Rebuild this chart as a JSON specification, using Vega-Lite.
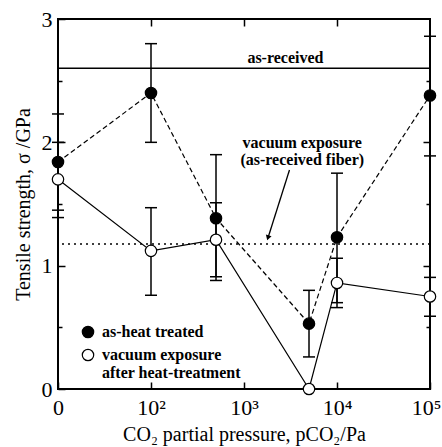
{
  "$schema": "https://vega.github.io/schema/vega-lite/v6.json",
  "width": 372,
  "height": 370,
  "autosize": "none",
  "padding": {"left": 58, "top": 19, "right": 12, "bottom": 58},
  "background": "white",
  "datasets": {
    "main": [
      {"series": "as-heat treated", "p": 10, "sigma": 1.84, "lo": 1.45, "hi": 2.23},
      {"series": "as-heat treated", "p": 100, "sigma": 2.40, "lo": 2.00, "hi": 2.80},
      {"series": "as-heat treated", "p": 500, "sigma": 1.385, "lo": 0.88, "hi": 1.90},
      {"series": "as-heat treated", "p": 5000, "sigma": 0.53, "lo": 0.26, "hi": 0.80},
      {"series": "as-heat treated", "p": 10000, "sigma": 1.23, "lo": 0.70, "hi": 1.75},
      {"series": "as-heat treated", "p": 100000, "sigma": 2.38, "lo": 1.89, "hi": 2.86},
      {"series": "vacuum exposure after heat-treatment", "p": 10, "sigma": 1.70, "lo": 1.39, "hi": 2.00},
      {"series": "vacuum exposure after heat-treatment", "p": 100, "sigma": 1.12, "lo": 0.76, "hi": 1.47},
      {"series": "vacuum exposure after heat-treatment", "p": 500, "sigma": 1.21, "lo": 0.91, "hi": 1.51},
      {"series": "vacuum exposure after heat-treatment", "p": 5000, "sigma": 0.0, "lo": null, "hi": null},
      {"series": "vacuum exposure after heat-treatment", "p": 10000, "sigma": 0.86, "lo": 0.66, "hi": 1.06},
      {"series": "vacuum exposure after heat-treatment", "p": 100000, "sigma": 0.75, "lo": 0.59, "hi": 0.905}
    ],
    "labels": [
      {"p": 2790, "sigma": 2.64, "text": "as-received"},
      {"p": 4230, "sigma": 1.955, "text": "vacuum exposure"},
      {"p": 4230, "sigma": 1.82, "text": "(as-received fiber)"}
    ],
    "arrow": [
      {"p": 3083, "sigma": 1.776, "p2": 1820, "sigma2": 1.23}
    ],
    "arrowhead": [
      {"p": 1810, "sigma": 1.225}
    ]
  },
  "encoding": {
    "x": {"field": "p", "type": "quantitative", "scale": {"type": "log", "domain": [10, 100000]}, "axis": null},
    "y": {"field": "sigma", "type": "quantitative", "scale": {"domain": [0, 3], "nice": false, "zero": false}, "axis": null}
  },
  "layer": [
    {
      "data": {"values": [{"sigma": 2.6}]},
      "mark": {"type": "rule", "color": "black", "strokeWidth": 1.5},
      "encoding": {"y": {"field": "sigma", "type": "quantitative", "axis": null}, "x": null}
    },
    {
      "data": {"values": [{"sigma": 1.175}]},
      "mark": {"type": "rule", "color": "black", "strokeWidth": 1.5, "strokeDash": [2, 4]},
      "encoding": {"y": {"field": "sigma", "type": "quantitative", "axis": null}, "x": null}
    },
    {
      "data": {"name": "main"},
      "transform": [{"filter": "datum.series == 'as-heat treated'"}],
      "mark": {"type": "line", "color": "black", "strokeWidth": 1.2, "strokeDash": [5, 3]},
      "encoding": {
        "x": {"field": "p", "type": "quantitative", "axis": {"orient": "top", "values": [100, 1000, 10000], "labels": false, "title": null, "domain": false, "tickSize": -7}},
        "y": {"field": "sigma", "type": "quantitative", "axis": {"orient": "right", "values": [0.5, 1, 1.5, 2, 2.5], "labels": false, "title": null, "domain": false, "tickSize": {"condition": {"test": "datum.value % 1 != 0", "value": -4}, "value": -7}}}
      }
    },
    {
      "data": {"name": "main"},
      "transform": [{"filter": "datum.series != 'as-heat treated'"}],
      "mark": {"type": "line", "color": "black", "strokeWidth": 1.2}
    },
    {
      "data": {"name": "main"},
      "transform": [{"filter": "isValid(datum.lo)"}],
      "mark": {"type": "rule", "color": "black", "strokeWidth": 1.5},
      "encoding": {
        "y": {"field": "lo", "type": "quantitative"},
        "y2": {"field": "hi"}
      }
    },
    {
      "data": {"name": "main"},
      "transform": [{"filter": "isValid(datum.lo)"}],
      "mark": {"type": "tick", "orient": "horizontal", "color": "black", "size": 12, "thickness": 1.5, "opacity": 1},
      "encoding": {"y": {"field": "lo", "type": "quantitative"}}
    },
    {
      "data": {"name": "main"},
      "transform": [{"filter": "isValid(datum.hi)"}],
      "mark": {"type": "tick", "orient": "horizontal", "color": "black", "size": 12, "thickness": 1.5, "opacity": 1},
      "encoding": {"y": {"field": "hi", "type": "quantitative"}}
    },
    {
      "data": {"name": "main"},
      "mark": {"type": "point", "shape": "circle", "filled": true, "size": 130, "stroke": "black", "strokeWidth": 1.2, "opacity": 1},
      "encoding": {
        "x": {"field": "p", "type": "quantitative", "axis": {"orient": "bottom", "values": [10, 100, 1000, 10000, 100000], "labelExpr": "datum.value == 10 ? '0' : datum.value == 100 ? '10²' : datum.value == 1000 ? '10³' : datum.value == 10000 ? '10⁴' : '10⁵'", "labelAlign": {"condition": {"test": "datum.value == 100000", "value": "right"}, "value": "center"}, "labelOffset": {"condition": {"test": "datum.value == 100000", "value": 11}, "value": 0}, "domain": false, "tickSize": -7, "labelPadding": 15, "labelFontSize": 22, "title": "CO₂ partial pressure, pCO₂/Pa", "titleFontSize": 20, "titleFontWeight": "normal", "titlePadding": 6, "labelFlush": false}},
        "y": {"field": "sigma", "type": "quantitative", "axis": {"orient": "left", "values": [0, 0.5, 1, 1.5, 2, 2.5, 3], "labelExpr": "datum.value % 1 == 0 ? format(datum.value, 'd') : ''", "domain": false, "tickSize": {"condition": {"test": "datum.value % 1 != 0", "value": -4}, "value": -7}, "labelPadding": 13, "labelFontSize": 22, "title": "Tensile strength,  σ /GPa", "titleFontSize": 20, "titleFontWeight": "normal", "titlePadding": 8, "labelFlush": false}},
        "color": {"field": "series", "type": "nominal", "scale": {"domain": ["as-heat treated", "vacuum exposure after heat-treatment"], "range": ["black", "white"]}, "legend": {"orient": "none", "legendX": 22, "legendY": 305, "title": null, "labelFont": "Liberation Serif", "labelFontWeight": "bold", "labelFontSize": 16, "labelColor": "black", "symbolType": "circle", "symbolSize": 130, "symbolStrokeColor": "black", "symbolStrokeWidth": 1.2, "symbolOpacity": 1, "rowPadding": 5, "labelOffset": 6, "labelExpr": "datum.value == 'vacuum exposure after heat-treatment' ? ['vacuum exposure', 'after heat-treatment'] : datum.label"}}
      }
    },
    {
      "data": {"name": "labels"},
      "mark": {"type": "text", "font": "Liberation Serif", "fontWeight": "bold", "fontSize": 16, "align": "center", "baseline": "alphabetic", "color": "black"},
      "encoding": {"text": {"field": "text"}}
    },
    {
      "data": {"name": "arrow"},
      "mark": {"type": "rule", "color": "black", "strokeWidth": 1.3},
      "encoding": {"x2": {"field": "p2"}, "y2": {"field": "sigma2"}}
    },
    {
      "data": {"name": "arrowhead"},
      "mark": {"type": "point", "shape": "triangle-down", "filled": true, "color": "black", "size": 35, "angle": 17, "opacity": 1}
    }
  ],
  "resolve": {"axis": {"x": "independent", "y": "independent"}},
  "config": {
    "view": {"stroke": "black", "strokeWidth": 2},
    "font": "Liberation Serif",
    "axis": {"grid": false, "tickColor": "black", "tickWidth": 1.5, "labelColor": "black", "titleColor": "black", "labelFont": "Liberation Serif", "titleFont": "Liberation Serif"}
  }
}
